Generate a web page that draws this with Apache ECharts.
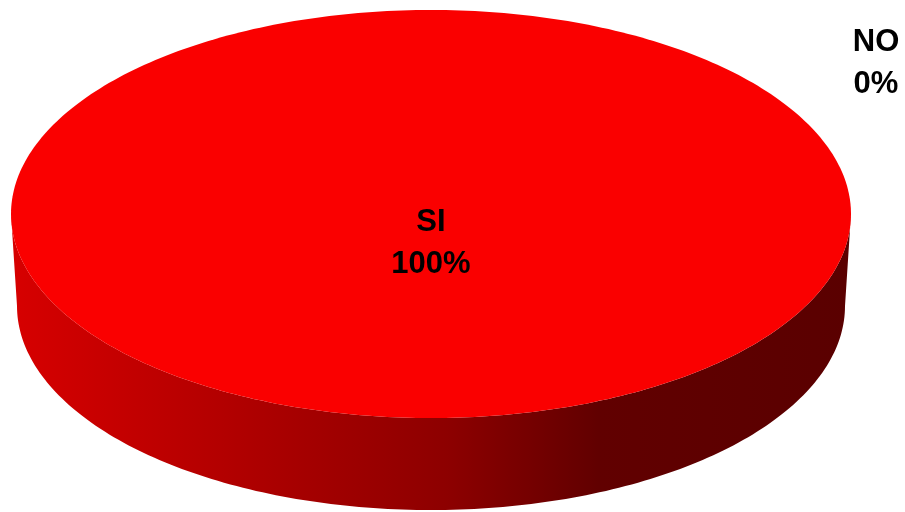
<!DOCTYPE html>
<html>
<head>
<meta charset="utf-8">
<script src="https://cdn.jsdelivr.net/npm/echarts@6/dist/echarts.min.js"></script>
<style>
    html, body { margin: 0; padding: 0; background: #fff; }
    #chart { width: 905px; height: 512px; }
</style>
</head>
<body>
<div id="chart"></div>
<script>
// datos del grafico
const categories = ['SI', 'NO'];
const values = [100, 0];

const total = values.reduce((a, b) => a + b, 0);

// elipse superior e inferior del pastel 3D
const upper = { cx: 431, cy: 214, rx: 420, ry: 204 };
const lower = { cx: 431, cy: 306, rx: 414, ry: 204 };

// angulo medido en sentido horario desde las 12
function pt(e, a) {
    return [e.cx + e.rx * Math.sin(a), e.cy - e.ry * Math.cos(a)];
}
function arcPts(e, a0, a1) {
    const n = Math.max(2, Math.ceil((a1 - a0) / (Math.PI / 180)));
    const pts = [];
    for (let k = 0; k <= n; k++) pts.push(pt(e, a0 + (a1 - a0) * k / n));
    return pts;
}

const wallColor = new echarts.graphic.LinearGradient(0, 0, 1, 0, [
    { offset: 0, color: '#D70000' },
    { offset: 0.34, color: '#A60000' },
    { offset: 0.52, color: '#8D0000' },
    { offset: 0.7, color: '#610000' },
    { offset: 1, color: '#5A0000' }
]);

function renderItem(params, api) {
    const i = params.dataIndex;
    const v = api.value(0);
    let before = 0;
    for (let k = 0; k < i; k++) before += values[k];
    const a0 = before / total * Math.PI * 2;
    const a1 = (before + v) / total * Math.PI * 2;
    const children = [];
    let lx, ly;
    if (v > 0) {
        // pared lateral visible (mitad delantera)
        const w0 = Math.max(a0, Math.PI / 2);
        const w1 = Math.min(a1, Math.PI * 1.5);
        if (w1 > w0) {
            const pts = arcPts(upper, w0, w1).concat(arcPts(lower, w0, w1).reverse());
            children.push({ type: 'polygon', shape: { points: pts }, style: { fill: wallColor } });
        }
        const full = a1 - a0 >= Math.PI * 2 - 1e-9;
        const topPts = arcPts(upper, a0, a1);
        if (!full) topPts.unshift([upper.cx, upper.cy]);
        children.push({ type: 'polygon', shape: { points: topPts }, style: { fill: '#FA0000' } });
        if (full) {
            lx = upper.cx;
            ly = upper.cy + 29;
        } else {
            const m = pt({ cx: upper.cx, cy: upper.cy, rx: upper.rx * 0.6, ry: upper.ry * 0.6 }, (a0 + a1) / 2);
            lx = m[0];
            ly = m[1];
        }
    } else {
        // etiqueta fuera del pastel para el 0%
        lx = upper.cx + upper.rx + 25;
        ly = upper.cy - upper.ry * 0.74;
    }
    children.push({
        type: 'text',
        x: lx,
        y: ly,
        style: {
            text: categories[i] + '\n' + Math.round(v / total * 100) + '%',
            fill: '#000',
            fontSize: 31,
            fontWeight: 'bold',
            fontFamily: '"Liberation Sans", Arial, sans-serif',
            align: 'center',
            verticalAlign: 'middle',
            lineHeight: 42
        }
    });
    return { type: 'group', children: children };
}

const chart = echarts.init(document.getElementById('chart'));
chart.setOption({
    backgroundColor: '#fff',
    animation: false,
    series: [
        {
            type: 'custom',
            coordinateSystem: 'none',
            silent: true,
            renderItem: renderItem,
            data: values.map((v, i) => [v, i])
        }
    ]
});
</script>
</body>
</html>
